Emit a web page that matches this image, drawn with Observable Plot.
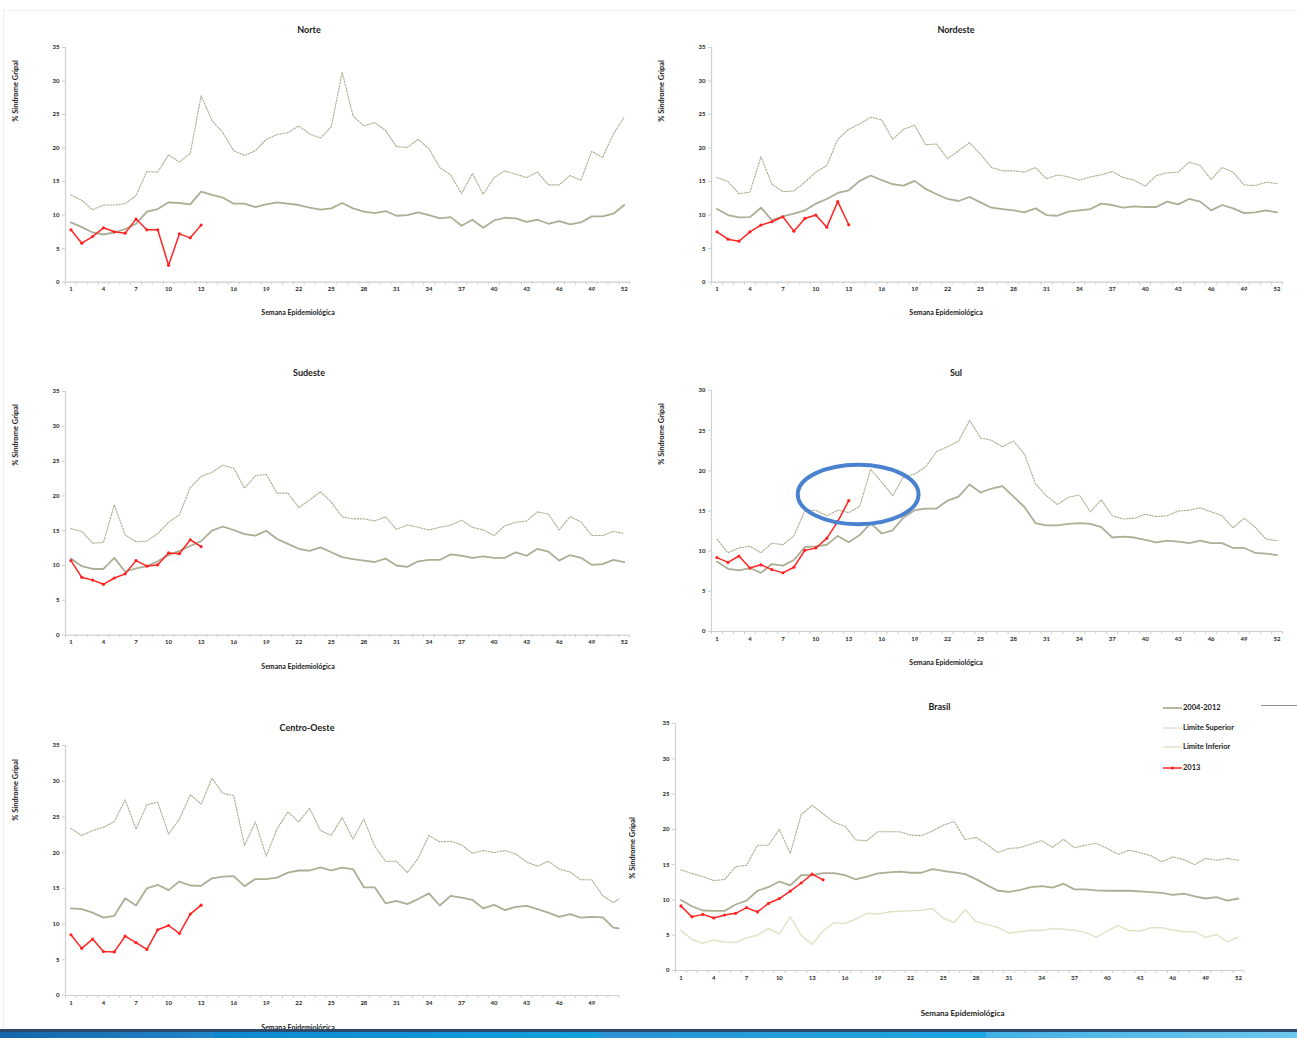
<!DOCTYPE html>
<html><head><meta charset="utf-8">
<script src="https://cdn.jsdelivr.net/npm/d3@7"></script>
<script src="https://cdn.jsdelivr.net/npm/@observablehq/plot@0.6"></script>
<style>
body{margin:0;background:#fff;}
#page{position:relative;width:1297px;height:1038px;overflow:hidden;background:#fff;font-family:Lato,"Open Sans",sans-serif;}
.t{position:absolute;white-space:nowrap;font-weight:bold;color:#1a1a1a;transform:translate(-50%,-50%);line-height:1;}
.yl{position:absolute;white-space:nowrap;font-weight:bold;color:#1a1a1a;font-size:7.5px;line-height:1;transform:translate(-50%,-50%) rotate(-90deg);}
#page svg.p{position:absolute;overflow:visible;}
.lg{position:absolute;font-size:7.5px;font-weight:bold;color:#222;white-space:nowrap;line-height:1;}
</style></head><body><div id="page"></div>
<script>
const weeks = d3.range(1, 53);
const xTickLabels = [1,4,7,10,13,16,19,22,25,28,31,34,37,40,43,46,49,52];
const yTicks35 = [0,5,10,15,20,25,30,35];
const yTicks30 = [0,5,10,15,20,25,30];

const norteMedia = [8.9,8.2,7.4,7.1,7.4,7.9,8.7,10.5,10.9,11.9,11.8,11.6,13.5,13.0,12.6,11.7,11.7,11.2,11.6,11.9,11.7,11.5,11.1,10.8,11.0,11.8,11.0,10.5,10.3,10.6,9.9,10.0,10.4,10.0,9.5,9.7,8.4,9.3,8.1,9.2,9.6,9.5,9.0,9.3,8.7,9.1,8.6,8.9,9.8,9.8,10.2,11.5];
const norteSup = [13.0,12.2,10.8,11.5,11.5,11.7,12.9,16.5,16.4,19.0,17.9,19.2,27.8,24.1,22.3,19.6,18.9,19.6,21.3,22.0,22.3,23.3,22.1,21.5,23.2,31.3,24.8,23.3,23.8,22.6,20.2,20.1,21.3,19.9,17.1,16.0,13.2,16.2,13.1,15.6,16.6,16.1,15.6,16.4,14.5,14.5,15.9,15.2,19.5,18.6,22.1,24.6];
const norte2013 = [7.8,5.8,6.8,8.1,7.5,7.3,9.4,7.8,7.8,2.5,7.2,6.6,8.5];

const nordesteMedia = [10.9,10.0,9.65,9.7,11.1,9.25,9.8,10.2,10.7,11.7,12.4,13.3,13.7,15.1,15.9,15.2,14.6,14.4,15.1,13.9,13.1,12.4,12.1,12.7,11.9,11.1,10.9,10.7,10.4,11.0,10.0,9.9,10.5,10.7,10.9,11.7,11.5,11.1,11.3,11.2,11.2,12.0,11.6,12.4,12.0,10.7,11.5,11.0,10.3,10.4,10.7,10.4];
const nordesteSup = [15.6,15.0,13.2,13.4,18.7,14.6,13.5,13.6,14.9,16.4,17.4,21.3,22.8,23.6,24.6,24.2,21.3,22.8,23.4,20.5,20.6,18.4,19.6,20.8,19.1,17.1,16.6,16.6,16.4,17.1,15.4,16.0,15.7,15.2,15.7,16.0,16.5,15.6,15.2,14.3,15.9,16.3,16.4,17.9,17.4,15.3,17.1,16.4,14.5,14.4,14.9,14.7];
const nordeste2013 = [7.5,6.4,6.1,7.5,8.5,9.0,9.75,7.6,9.5,10.0,8.2,12.0,8.55];

const sudesteMedia = [11.0,9.9,9.5,9.5,11.1,9.1,9.6,9.9,10.6,11.5,12.1,12.8,13.5,15.0,15.6,15.1,14.5,14.3,15.0,13.8,13.1,12.4,12.1,12.6,11.9,11.2,10.9,10.7,10.5,11.0,10.0,9.8,10.6,10.8,10.8,11.6,11.4,11.1,11.3,11.1,11.1,11.9,11.4,12.4,12.0,10.7,11.5,11.1,10.1,10.2,10.8,10.5];
const sudesteSup = [15.3,14.9,13.2,13.3,18.7,14.4,13.4,13.5,14.6,16.2,17.3,21.2,22.8,23.4,24.4,24.0,21.1,22.9,23.1,20.4,20.4,18.3,19.4,20.6,19.1,17.0,16.7,16.7,16.4,17.0,15.2,15.8,15.5,15.1,15.5,15.8,16.5,15.5,15.1,14.3,15.7,16.2,16.4,17.7,17.4,15.1,17.0,16.3,14.3,14.3,14.9,14.6];
const sudeste2013 = [10.7,8.3,7.9,7.3,8.2,8.8,10.7,9.9,10.1,11.8,11.7,13.7,12.7];

const sulMedia = [8.7,7.8,7.6,7.9,7.3,8.4,8.2,8.9,10.5,10.6,10.8,11.9,11.1,12.0,13.5,12.2,12.6,14.2,15.1,15.3,15.3,16.3,16.8,18.3,17.3,17.8,18.1,16.8,15.5,13.5,13.2,13.2,13.4,13.5,13.4,13.0,11.7,11.8,11.7,11.4,11.1,11.3,11.2,11.0,11.3,11.0,11.0,10.4,10.4,9.8,9.7,9.5];
const sulSup = [11.5,9.8,10.4,10.6,9.8,11.0,10.8,11.9,15.0,15.1,14.4,15.1,14.8,15.6,20.2,18.6,16.9,19.3,19.6,20.5,22.4,23.0,23.7,26.3,24.1,23.8,23.0,23.7,22.1,18.4,16.9,15.8,16.7,17.0,14.9,16.4,14.4,14.0,14.1,14.6,14.3,14.4,15.0,15.1,15.4,14.9,14.4,12.9,14.1,13.0,11.5,11.3];
const sul2013 = [9.2,8.6,9.4,7.9,8.3,7.7,7.3,8.0,10.1,10.4,11.6,13.7,16.3];
// annotation ellipse: centre week, centre value, half-width (weeks), half-height (%)
const sulHighlight = [13.9, 17.0, 5.5, 3.7];

const coMedia = [12.2,12.1,11.6,10.9,11.15,13.6,12.6,15.0,15.5,14.75,15.95,15.4,15.35,16.4,16.65,16.7,15.3,16.3,16.3,16.5,17.2,17.5,17.5,17.95,17.5,17.9,17.7,15.15,15.15,12.9,13.25,12.8,13.5,14.3,12.6,13.95,13.7,13.4,12.2,12.7,11.95,12.4,12.55,12.1,11.6,11.0,11.4,10.9,11.0,10.95,9.5,9.3];
const coSup = [23.4,22.4,23.1,23.55,24.35,27.4,23.3,26.7,27.05,22.6,24.7,28.1,26.8,30.4,28.3,28.0,21.0,24.3,19.5,23.3,25.7,24.3,26.2,23.1,22.4,24.9,21.9,24.7,20.9,18.8,18.8,17.2,19.2,22.4,21.5,21.6,21.1,19.9,20.3,20.0,20.3,19.8,18.7,18.1,18.8,17.7,17.3,16.2,16.2,14.0,13.0,14.0];
const co2013 = [8.5,6.6,7.9,6.15,6.1,8.3,7.4,6.45,9.2,9.8,8.7,11.4,12.65];

const brMedia = [10.0,9.1,8.5,8.45,8.45,9.35,9.9,11.3,11.8,12.6,12.05,13.5,13.5,13.8,13.8,13.5,12.9,13.3,13.75,13.9,14.0,13.85,13.85,14.35,14.1,13.9,13.65,12.95,12.1,11.3,11.15,11.4,11.8,11.95,11.75,12.3,11.5,11.5,11.35,11.3,11.3,11.3,11.2,11.1,11.0,10.7,10.9,10.5,10.2,10.4,9.9,10.2];
const brSup = [14.25,13.75,13.3,12.75,12.9,14.7,14.9,17.75,17.75,20.0,16.6,22.1,23.4,22.2,21.0,20.45,18.5,18.4,19.65,19.65,19.65,19.2,19.1,19.75,20.6,21.1,18.55,18.85,17.85,16.7,17.3,17.4,17.9,18.4,17.45,18.6,17.4,17.75,18.0,17.3,16.45,17.05,16.7,16.25,15.4,16.1,15.7,15.0,15.9,15.6,15.9,15.6];
const brInf = [5.65,4.4,3.85,4.3,4.05,3.95,4.6,5.0,5.95,5.2,7.6,5.0,3.7,5.6,6.75,6.65,7.3,8.1,8.0,8.3,8.4,8.45,8.55,8.8,7.4,6.8,8.65,6.9,6.5,6.1,5.3,5.5,5.7,5.65,5.95,5.85,5.7,5.4,4.7,5.6,6.35,5.65,5.6,6.05,6.05,5.75,5.5,5.5,4.7,5.1,4.05,4.75];
const br2013 = [9.15,7.6,7.95,7.45,7.85,8.1,8.9,8.3,9.5,10.2,11.25,12.4,13.65,12.85];

const legendLabels = ["2004-2012", "Limite Superior", "Limite Inferior", "2013"];

const C = {
  media: "#acae95", sup: "#aeab90", inf: "#e0e4c7", y2013: "#ff2424",
  axis: "#cfcfcf", text: "#2a2a2a", ellipse: "#4a82cf"
};

const page = document.getElementById("page");
function addDiv(cls, text, x, y, style) {
  const d = document.createElement("div");
  d.className = cls; d.textContent = text;
  d.style.left = x + "px"; d.style.top = y + "px";
  if (style) Object.assign(d.style, style);
  page.appendChild(d);
  return d;
}
const rows = arr => arr.map((v, i) => ({w: weeks[i], v}));

function panel(cfg) {
  const padL = 60, padR = 12, padT = 12, padB = 22;
  const width = (cfg.x1 - cfg.x0) + padL + padR;
  const height = (cfg.yBot - cfg.yTop) + padT + padB;
  const xMax = cfg.xMax ?? 52.5;
  const yMax = cfg.yMax ?? 35;
  const bounds = d3.range(0.5, xMax + 0.01, 1);
  const marks = [
    Plot.ruleX([0.5], {stroke: C.axis, strokeWidth: 1.2}),
    Plot.ruleY([0], {stroke: C.axis, strokeWidth: 1.2}),
    Plot.axisY({ticks: cfg.yTicks, tickSize: 3, tickPadding: 3, stroke: C.axis, fill: C.text, label: null, tickFormat: d => d}),
    Plot.axisX({ticks: bounds, tickSize: 3, tickFormat: () => "", stroke: C.axis, label: null}),
    Plot.axisX({ticks: xTickLabels.filter(t => t <= xMax), tickSize: 0, tickPadding: 5, fill: C.text, label: null, tickFormat: d => d}),
    Plot.line(rows(cfg.sup), {x: "w", y: "v", stroke: C.sup, strokeWidth: 1.1, strokeDasharray: "1.5,1.5", clip: true}),
  ];
  if (cfg.inf) marks.push(Plot.line(rows(cfg.inf), {x: "w", y: "v", stroke: C.inf, strokeWidth: 1.5, clip: true}));
  marks.push(Plot.line(rows(cfg.media), {x: "w", y: "v", stroke: C.media, strokeWidth: 1.8, clip: true}));
  marks.push(Plot.line(rows(cfg.cur), {x: "w", y: "v", stroke: C.y2013, strokeWidth: 1.5}));
  marks.push(Plot.dot(rows(cfg.cur), {x: "w", y: "v", r: 1.6, fill: C.y2013, stroke: "none"}));
  if (cfg.highlight) {
    const [cx, cy, rx, ry] = cfg.highlight;
    marks.push((index, scales) => {
      const X = scales.x, Y = scales.y;
      const px = X(cx), py = Y(cy);
      return d3.create("svg:ellipse")
        .attr("cx", px).attr("cy", py)
        .attr("rx", Math.abs(X(cx + rx) - px)).attr("ry", Math.abs(Y(cy + ry) - py))
        .attr("fill", "none").attr("stroke", C.ellipse).attr("stroke-width", 4).node();
    });
  }
  const svg = Plot.plot({
    width, height,
    marginLeft: padL, marginRight: padR, marginTop: padT, marginBottom: padB,
    x: {type: "linear", domain: [0.5, xMax], axis: null},
    y: {domain: [0, yMax], axis: null},
    style: {fontFamily: "Lato, 'Open Sans', sans-serif", fontSize: "6px", fontWeight: "bold", background: "transparent", overflow: "visible"},
    marks
  });
  svg.classList.add("p");
  svg.style.left = (cfg.x0 - padL) + "px";
  svg.style.top = (cfg.yTop - padT) + "px";
  page.appendChild(svg);
  addDiv("t", cfg.title, cfg.title_x, cfg.title_y, {fontSize: "9px"});
  addDiv("yl", "% Síndrome Gripal", cfg.yl_x, cfg.yl_y);
  addDiv("t", "Semana Epidemiológica", cfg.xt_x, cfg.xt_y, {fontSize: cfg.xtSize || "7px"});
}

panel({title: "Norte", x0: 65.2, x1: 629.4, yTop: 46.7, yBot: 281.3, yTicks: yTicks35,
  media: norteMedia, sup: norteSup, cur: norte2013,
  title_x: 309, title_y: 29, yl_x: 15.5, yl_y: 90.5, xt_x: 298, xt_y: 312});
panel({title: "Nordeste", x0: 710.5, x1: 1281.5, yTop: 46.7, yBot: 281.3, yTicks: yTicks35,
  media: nordesteMedia, sup: nordesteSup, cur: nordeste2013,
  title_x: 956, title_y: 29, yl_x: 661.6, yl_y: 90.5, xt_x: 946, xt_y: 312});
panel({title: "Sudeste", x0: 65.2, x1: 629.4, yTop: 390.7, yBot: 634.3, yTicks: yTicks35,
  media: sudesteMedia, sup: sudesteSup, cur: sudeste2013,
  title_x: 309, title_y: 372.3, yl_x: 15.5, yl_y: 435, xt_x: 298, xt_y: 666});
panel({title: "Sul", x0: 710.5, x1: 1281.5, yTop: 390, yBot: 631, yTicks: yTicks30, yMax: 30,
  media: sulMedia, sup: sulSup, cur: sul2013, highlight: sulHighlight,
  title_x: 956, title_y: 371.7, yl_x: 661.6, yl_y: 434, xt_x: 946, xt_y: 662});
panel({title: "Centro-Oeste", x0: 65.2, x1: 619.6, xMax: 51.6, yTop: 745, yBot: 995, yTicks: yTicks35,
  media: coMedia, sup: coSup, cur: co2013,
  title_x: 307, title_y: 727.3, yl_x: 15.5, yl_y: 790, xt_x: 298, xt_y: 1026.7});
panel({title: "Brasil", x0: 675.1, x1: 1243.5, yTop: 723.3, yBot: 970.3, yTicks: yTicks35,
  media: brMedia, sup: brSup, inf: brInf, cur: br2013,
  title_x: 939.5, title_y: 706, yl_x: 633, yl_y: 847.5, xt_x: 962.6, xt_y: 1013, xtSize: "8px"});

// legend
const legendStyles = [
  {stroke: C.media, w: 1.8, dash: null, dot: false},
  {stroke: C.sup, w: 1.1, dash: "1.5,1.5", dot: false},
  {stroke: C.inf, w: 1.5, dash: null, dot: false},
  {stroke: C.y2013, w: 1.5, dash: null, dot: true}
];
const legendY = [707.7, 727.7, 747.3, 767.7];
legendLabels.forEach((lab, i) => {
  const s = legendStyles[i];
  const svg = d3.create("svg").attr("width", 20).attr("height", 6)
    .style("position", "absolute").style("left", "1163px").style("top", (legendY[i] - 3) + "px");
  svg.append("line").attr("x1", 0).attr("x2", 19).attr("y1", 3).attr("y2", 3)
    .attr("stroke", s.stroke).attr("stroke-width", s.w).attr("stroke-dasharray", s.dash);
  if (s.dot) svg.append("circle").attr("cx", 9.5).attr("cy", 3).attr("r", 1.6).attr("fill", s.stroke);
  page.appendChild(svg.node());
  const d = addDiv("lg", lab, 1183, legendY[i]);
  d.style.transform = "translateY(-50%)";
});
// stray line at top right
const stray = document.createElement("div");
Object.assign(stray.style, {position: "absolute", left: "1261px", top: "704.5px", width: "36px", height: "0", borderTop: "1.3px solid #8c8c8c"});
page.appendChild(stray);

// faint frame
const frame = document.createElement("div");
Object.assign(frame.style, {position: "absolute", left: "3px", top: "9.5px", width: "1300px", height: "1030px", borderLeft: "1px solid #ececec", borderTop: "1px solid #f1f1f1"});
page.appendChild(frame);

// bottom bar
const bar = document.createElement("div");
Object.assign(bar.style, {position: "absolute", left: "0", top: "1029px", width: "1297px", height: "9px", zIndex: 5,
  background: "linear-gradient(to bottom, #2c4a6c 0, #2c4a6c 3px, transparent 3px), linear-gradient(to right, #1566aa 0, #1f86c8 213px, #0b88cf 213px, #12a0de 600px, #2b93d3 600px, #1ba6e1 986px, #41b1e5 986px, #6cc7ee 1297px)"});
page.appendChild(bar);
</script>
</body></html>
